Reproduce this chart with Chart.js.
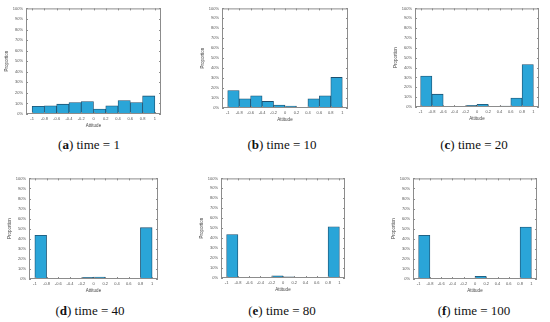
<!DOCTYPE html>
<html>
<head>
<meta charset="utf-8">
<script src="https://cdn.jsdelivr.net/npm/chart.js@4.4.0/dist/chart.umd.min.js"></script>
<style>
  body { margin: 0; background: #fff; }
  #page { position: relative; width: 550px; height: 322px; overflow: hidden; }
  canvas { position: absolute; }
  .cap {
    position: absolute; width: 120px; text-align: center;
    font-family: "Liberation Serif", "DejaVu Serif", serif; font-size: 13px; color: #111;
    white-space: nowrap;
  }
</style>
</head>
<body>
<div id="page"></div>
<script>
// histogram bins (attitude), tick labels and proportions (%) per time step
const binCenters = [-0.9, -0.7, -0.5, -0.3, -0.1, 0.1, 0.3, 0.5, 0.7, 0.9];
const xTicks = [-1, -0.8, -0.6, -0.4, -0.2, 0, 0.2, 0.4, 0.6, 0.8, 1];
const yTicks = [0, 10, 20, 30, 40, 50, 60, 70, 80, 90, 100];

const propT1 = [7.2, 7.8, 9.3, 10.9, 11.8, 4.7, 7.8, 12.8, 10.9, 17.1];
const propT10 = [17.5, 9.2, 12.2, 6.6, 3.0, 2.0, 0.6, 9.2, 12.2, 30.7];
const propT20 = [31.3, 13.0, 0, 0, 1.7, 2.7, 0, 1.0, 9.0, 43.0];
const propT40 = [43.5, 0, 0, 0, 1.6, 2.0, 0, 0, 0.3, 51.0];
const propT80 = [43.6, 0, 0, 0, 2.3, 1.3, 0, 0, 0, 51.5];
const propT100 = [43.5, 0, 0, 0, 0.7, 2.6, 0, 0, 0, 51.6];

const captions = ['a', 'b', 'c', 'd', 'e', 'f'];
const times = [1, 10, 20, 40, 80, 100];
const series = [propT1, propT10, propT20, propT40, propT80, propT100];

// plot areas [left, top, right, bottom] and caption centres [x, y]
const areas = [
  [26, 7, 161, 114], [222, 7, 348, 108], [415, 7, 539, 107],
  [29, 177, 158, 279], [221, 177, 345, 278], [413, 177, 537, 279],
];
const capPos = [[89, 137], [282, 137], [474, 137], [90, 303], [282, 303], [474, 303]];

const Y_W = 22, X_H = 14, PAD_T = 4, PAD_R = 4;
const tickFont = { family: 'Liberation Sans, Arial, sans-serif', size: 4 };
const titleFont = { family: 'Liberation Sans, Arial, sans-serif', size: 4.5 };

// MATLAB-style box with inward ticks
const boxPlugin = {
  id: 'box',
  afterDraw(chart) {
    const { ctx, chartArea: a, scales } = chart;
    ctx.save();
    ctx.strokeStyle = '#8c8c8c';
    ctx.lineWidth = 1;
    ctx.strokeRect(a.left + 0.5, a.top + 0.5, a.right - a.left - 1, a.bottom - a.top - 1);
    ctx.beginPath();
    xTicks.forEach(v => {
      const x = Math.round(scales.x.getPixelForValue(v)) + 0.5;
      ctx.moveTo(x, a.bottom); ctx.lineTo(x, a.bottom - 2);
      ctx.moveTo(x, a.top); ctx.lineTo(x, a.top + 2);
    });
    yTicks.forEach(v => {
      const y = Math.round(scales.y.getPixelForValue(v)) + 0.5;
      ctx.moveTo(a.left, y); ctx.lineTo(a.left + 2, y);
      ctx.moveTo(a.right, y); ctx.lineTo(a.right - 2, y);
    });
    ctx.stroke();
    ctx.restore();
  }
};

const page = document.getElementById('page');

series.forEach((vals, i) => {
  const [l, t, r, b] = areas[i];
  const canvas = document.createElement('canvas');
  canvas.width = (r - l) + Y_W + PAD_R;
  canvas.height = (b - t) + PAD_T + X_H;
  canvas.style.left = (l - Y_W) + 'px';
  canvas.style.top = (t - PAD_T) + 'px';
  page.appendChild(canvas);

  new Chart(canvas, {
    type: 'bar',
    data: {
      datasets: [{
        data: binCenters.map((x, k) => ({ x, y: vals[k] })),
        backgroundColor: 'rgb(42, 165, 216)',
        borderColor: '#1d4f6e',
        borderWidth: 0.8,
        borderSkipped: false,
        barPercentage: 1,
        categoryPercentage: 1,
      }],
    },
    options: {
      responsive: false,
      animation: false,
      layout: { padding: { top: PAD_T, right: PAD_R, left: 0, bottom: 0 } },
      plugins: { legend: { display: false }, tooltip: { enabled: false } },
      scales: {
        x: {
          type: 'linear',
          offset: false,
          min: -1.1,
          max: 1.1,
          afterBuildTicks: (s) => { s.ticks = xTicks.map(v => ({ value: v })); },
          afterFit: (s) => { s.height = X_H; },
          grid: { display: false, drawTicks: false, offset: false },
          border: { display: false },
          ticks: {
            font: tickFont, color: '#555', padding: 2, maxRotation: 0, autoSkip: false,
            callback: (v) => String(v),
          },
          title: { display: true, text: 'Attitude', font: titleFont, color: '#444', padding: 0 },
        },
        y: {
          min: 0,
          max: 100,
          afterBuildTicks: (s) => { s.ticks = yTicks.map(v => ({ value: v })); },
          afterFit: (s) => { s.width = Y_W; },
          grid: { display: false, drawTicks: false },
          border: { display: false },
          ticks: { font: tickFont, color: '#555', padding: 3, callback: (v) => v + '%' },
          title: { display: true, text: 'Proportion', font: titleFont, color: '#444', padding: { top: 0, bottom: 0 } },
        },
      },
    },
    plugins: [boxPlugin],
  });

  const cap = document.createElement('div');
  cap.className = 'cap';
  cap.style.left = (capPos[i][0] - 60) + 'px';
  cap.style.top = capPos[i][1] + 'px';
  cap.innerHTML = '(<b>' + captions[i] + '</b>) time = ' + times[i];
  page.appendChild(cap);
});
</script>
</body>
</html>
